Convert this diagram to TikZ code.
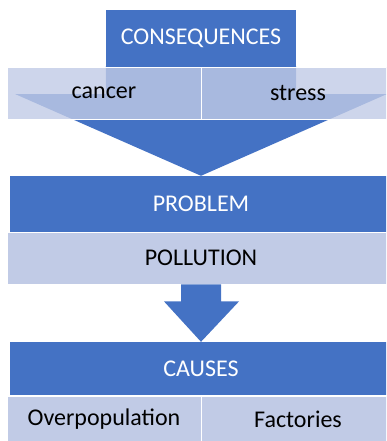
\documentclass[tikz,border=0pt]{standalone}
\usepackage{fontspec}
\setmainfont{Carlito}
\usetikzlibrary{calc}
\definecolor{darkblue}{HTML}{4472C4}
\definecolor{lightblue}{HTML}{C1CBE6}

\begin{document}
\begin{tikzpicture}
  [x=1pt,y=-1pt,
   every node/.style={inner sep=0pt,font=\fontsize{24}{28}\selectfont},
   header/.style={fill=darkblue,text=white},
   item/.style={fill=lightblue,draw=white,line width=0.8pt,minimum width=194pt},
   see/.style={item,fill opacity=0.8,text opacity=1}]
  \useasboundingbox (0,0) rectangle (386,441);
  \clip (0,0) rectangle (386,441);

  % top
  \node[header,minimum width=190pt,minimum height=56pt] (cons) at (201,38) {CONSEQUENCES};
  \node[header,minimum width=382pt,minimum height=56pt] (problem) at (201,204) {PROBLEM};
  \fill[darkblue] (cons.south west) -- ++(0,28) -- (15,94) -- (problem.north)
    -- (387,94) -- ($(cons.south east)+(0,28)$) -- (cons.south east) -- cycle;
  \node[see,minimum height=52pt] (cancer) at (104,93) {cancer};
  \node[see,minimum height=52pt] (stress) at (298,93) {stress};

  % middle
  \node[item,minimum width=388pt,minimum height=52pt] (pollution) at (201,258) {POLLUTION};
  \node[header,minimum width=382pt,minimum height=53pt] (causes) at (201,368.5) {CAUSES};
  \fill[darkblue] ($(pollution.south)+(-20,0)$) -- ++(0,17) -- ++(-17,0) -- (causes.north)
    -- ($(pollution.south)+(38,17)$) -- ++(-18,0) -- ($(pollution.south)+(20,0)$) -- cycle;

  % bottom
  \node[item,minimum height=46pt] (overpop) at (104,419) {Overpopulation};
  \node[item,minimum height=46pt] (factories) at (298,419) {Factories};
\end{tikzpicture}
\end{document}
